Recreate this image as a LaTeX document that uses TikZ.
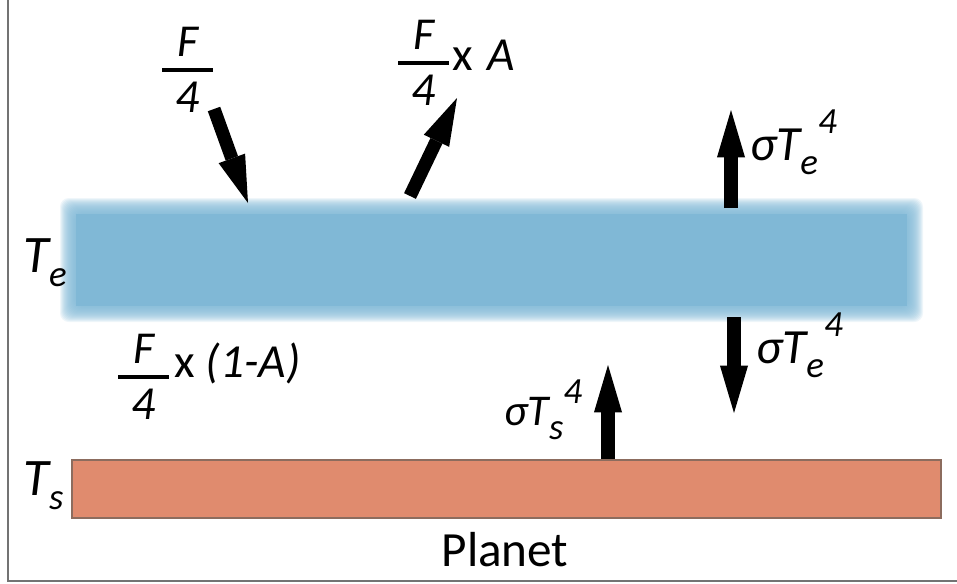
\documentclass[tikz,border=0pt]{standalone}
\usepackage{fontspec}
\setmainfont{Carlito}
\usepackage{tikz}
\usetikzlibrary{arrows.meta}

\definecolor{shar}{RGB}{128,184,214}
\definecolor{planeta}{RGB}{224,139,110}
\definecolor{kraj}{RGB}{140,108,94}

% нижній і верхній індекси
\newcommand{\pidr}[1]{\raisebox{-8pt}{\fontsize{21}{21}\selectfont #1}}
\newcommand{\nad}[2][15pt]{\raisebox{#1}{\fontsize{21}{21}\selectfont #2}}
% дріб F/4
\newcommand{\chetv}{\rlap{\raisebox{7.5pt}{\makebox[29pt]{\fontsize{26}{26}\selectfont\itshape F}}}%
  \rlap{\raisebox{-24pt}{\makebox[29pt]{\itshape 4}}}\rule[-1.4pt]{29pt}{2.8pt}}

\begin{document}
\begin{tikzpicture}[x=0.02cm, y=-0.02cm,
    potik/.style={line width=7.5pt, -{Triangle[length=27pt, width=16pt, line width=0pt]}},
    pidpys/.style={inner sep=0pt, anchor=base west, font=\fontsize{28}{30}\selectfont\itshape},
    drib/.style={inner sep=0pt, anchor=base west, font=\fontsize{27}{29}\selectfont}]

    % Рамка
    \useasboundingbox (0,0) rectangle (957,583);
    \draw[line width=1.2pt, black!55] (8,0) -- (8,581) -- (957,581);

    % Атмосфера (розмитий шар)
    \fill[shar] (76,214) rectangle (907,306);
    \foreach \d in {0,1,...,16}
      \fill[shar, opacity=0.13, rounded corners=5pt] (60+\d,198+\d) rectangle (923-\d,322-\d);

    % Планета
    \draw[fill=planeta, draw=kraj, line width=1.2pt] (72,460) rectangle (941,518);
    \node[font=\fontsize{28}{30}\selectfont, inner sep=0pt, anchor=base] (planeta) at (505,566) {Planet};

    % Кінці стрілок
    \coordinate (in1) at (214,109);
    \coordinate (in2) at (248,203);
    \coordinate (ref1) at (410,196);
    \coordinate (ref2) at (457,98);
    \coordinate (up1) at (731,208);
    \coordinate (up2) at (731,110);
    \coordinate (dn1) at (734,317);
    \coordinate (dn2) at (734,413);
    \coordinate (s1) at (608,459);
    \coordinate (s2) at (608,365);

    % Стрілки
    \draw[potik] (in1) -- (in2);
    \draw[potik] (ref1) -- (ref2);
    \draw[potik] (up1) -- (up2);
    \draw[potik] (dn1) -- (dn2);
    \draw[potik] (s1) -- (s2);

    % Підписи
    \node[pidpys, font=\fontsize{30}{32}\selectfont\itshape] (Te) at (23,272) {T\pidr{e}};
    \node[pidpys, font=\fontsize{30}{32}\selectfont\itshape] (Ts) at (23,495) {T\pidr{s}};
    \node[pidpys] (sigE1) at (750,160) {σT\pidr{e}\nad{4}};
    \node[pidpys] (sigE2) at (756,363) {σT\pidr{e}\nad{4}};
    \node[pidpys, font=\fontsize{25}{27}\selectfont\itshape] (sigS) at (504,425) {σT\pidr{s}\nad[12pt]{4}};
    \node[drib] (fIn) at (162,70) {\chetv};
    \node[drib] (fRefl) at (398,63) {\chetv\hspace{2pt}\raisebox{-4pt}{x\hspace{8pt}\textit{A}}};
    \node[drib] (fAbs) at (118,377) {\chetv\hspace{3pt}x \textit{(1-A)}};
\end{tikzpicture}
\end{document}
